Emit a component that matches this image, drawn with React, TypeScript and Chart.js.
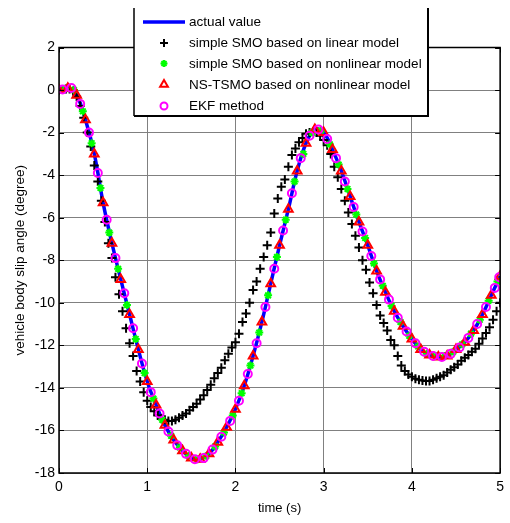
import React, { useEffect, useRef } from "react";
import { Chart, registerables } from "chart.js";
import { drawPoint } from "chart.js/helpers";
Chart.register(...registerables);

const FONT = 'Arial, "Liberation Sans", sans-serif';

const X_TICKS = [0, 1, 2, 3, 4, 5];
const Y_TICKS = [-18, -16, -14, -12, -10, -8, -6, -4, -2, 0, 2];

const LEGEND_LABELS = [
  "actual value",
  "simple SMO based on linear model",
  "simple SMO based on nonlinear model",
  "NS-TSMO based on nonlinear model",
  "EKF method",
];

// actual value (also the NS-TSMO triangle samples)
const ACTUAL_T = [
  0, 0.1, 0.2, 0.3, 0.4, 0.5, 0.6, 0.7, 0.8, 0.9,
  1.0, 1.1, 1.2, 1.3, 1.4, 1.5, 1.6, 1.7, 1.8, 1.9,
  2.0, 2.1, 2.2, 2.3, 2.4, 2.5, 2.6, 2.7, 2.8, 2.9,
  3.0, 3.1, 3.2, 3.3, 3.4, 3.5, 3.6, 3.7, 3.8, 3.9,
  4.0, 4.1, 4.2, 4.3, 4.4, 4.5, 4.6, 4.7, 4.8, 4.9, 5.0,
];
const ACTUAL = [
  0, 0.08, -0.25, -1.4, -3.0, -5.3, -7.2, -8.9, -10.55, -12.2,
  -13.7, -14.8, -15.75, -16.45, -16.95, -17.3, -17.35, -17.1, -16.55, -15.85,
  -15.0, -13.9, -12.5, -10.9, -9.1, -7.3, -5.6, -3.8, -2.5, -1.85,
  -2.0, -2.8, -3.8, -5.0, -6.2, -7.3, -8.5, -9.5, -10.4, -11.1,
  -11.7, -12.2, -12.45, -12.55, -12.5, -12.2, -11.85, -11.3, -10.55, -9.65, -8.75,
];

// simple SMO based on linear model
const SMO_LIN_T = [
  0, 0.04, 0.08, 0.12, 0.16, 0.2, 0.24, 0.28, 0.32, 0.36,
  0.4, 0.44, 0.48, 0.52, 0.56, 0.6, 0.64, 0.68, 0.72, 0.76,
  0.8, 0.84, 0.88, 0.92, 0.96, 1.0, 1.04, 1.08, 1.12, 1.16,
  1.2, 1.24, 1.28, 1.32, 1.36, 1.4, 1.44, 1.48, 1.52, 1.56,
  1.6, 1.64, 1.68, 1.72, 1.76, 1.8, 1.84, 1.88, 1.92, 1.96,
  2.0, 2.04, 2.08, 2.12, 2.16, 2.2, 2.24, 2.28, 2.32, 2.36,
  2.4, 2.44, 2.48, 2.52, 2.56, 2.6, 2.64, 2.68, 2.72, 2.76,
  2.8, 2.84, 2.88, 2.92, 2.96, 3.0, 3.04, 3.08, 3.12, 3.16,
  3.2, 3.24, 3.28, 3.32, 3.36, 3.4, 3.44, 3.48, 3.52, 3.56,
  3.6, 3.64, 3.68, 3.72, 3.76, 3.8, 3.84, 3.88, 3.92, 3.96,
  4.0, 4.04, 4.08, 4.12, 4.16, 4.2, 4.24, 4.28, 4.32, 4.36,
  4.4, 4.44, 4.48, 4.52, 4.56, 4.6, 4.64, 4.68, 4.72, 4.76,
  4.8, 4.84, 4.88, 4.92, 4.96, 5.0,
];
const SMO_LIN = [
  0, 0.02, 0.05, 0.05, -0.05, -0.3, -0.75, -1.3, -2.0, -2.65,
  -3.55, -4.3, -5.2, -6.2, -7.2, -7.9, -8.8, -9.6, -10.4, -11.2,
  -11.9, -12.5, -13.2, -13.7, -14.2, -14.6, -14.9, -15.1, -15.3, -15.45,
  -15.5, -15.55, -15.55, -15.5, -15.4, -15.3, -15.2, -15.05, -14.9, -14.75,
  -14.55, -14.35, -14.1, -13.85, -13.55, -13.3, -13.05, -12.7, -12.4, -12.1,
  -11.85, -11.45, -10.9, -10.5, -10.0, -9.4, -9.0, -8.4, -7.85, -7.3,
  -6.7, -5.8, -5.1, -4.55, -4.2, -3.6, -3.05, -2.75, -2.45, -2.25,
  -2.05, -2.0, -1.95, -2.0, -2.15, -2.35, -2.6, -3.0, -3.6, -4.1,
  -4.65, -5.2, -5.75, -6.3, -6.85, -7.4, -8.0, -8.45, -9.05, -9.55,
  -10.1, -10.6, -10.95, -11.3, -11.75, -12.0, -12.5, -12.95, -13.2, -13.37,
  -13.48, -13.57, -13.62, -13.65, -13.67, -13.67, -13.62, -13.55, -13.48, -13.4,
  -13.28, -13.15, -13.03, -12.9, -12.72, -12.58, -12.45, -12.3, -12.16, -11.92,
  -11.68, -11.42, -11.15, -10.8, -10.4, -10.0,
];

// simple SMO based on nonlinear model
const SMO_NL_T = [
  0.07, 0.17, 0.27, 0.37, 0.47, 0.57, 0.67, 0.77, 0.87, 0.97,
  1.07, 1.17, 1.27, 1.37, 1.47, 1.57, 1.67, 1.77, 1.87, 1.97,
  2.07, 2.17, 2.27, 2.37, 2.47, 2.57, 2.67, 2.77, 2.87, 2.97,
  3.07, 3.17, 3.27, 3.37, 3.47, 3.57, 3.67, 3.77, 3.87, 3.97,
  4.07, 4.17, 4.27, 4.37, 4.47, 4.57, 4.67, 4.77, 4.87, 4.97,
];
const SMO_NL = [
  0.06, 0.0, -1.0, -2.5, -4.6, -6.7, -8.4, -10.1, -11.7, -13.3,
  -14.5, -15.5, -16.25, -16.8, -17.2, -17.35, -17.2, -16.75, -16.1, -15.3,
  -14.25, -12.95, -11.4, -9.65, -7.85, -6.1, -4.3, -3.0, -2.0, -1.9,
  -2.55, -3.5, -4.65, -5.85, -6.95, -8.15, -9.2, -10.15, -10.9, -11.55,
  -12.05, -12.4, -12.5, -12.5, -12.3, -11.95, -11.45, -10.8, -9.9, -9.0,
];

// EKF method
const EKF_T = [
  0.04, 0.14, 0.24, 0.34, 0.44, 0.54, 0.64, 0.74, 0.84, 0.94,
  1.04, 1.14, 1.24, 1.34, 1.44, 1.54, 1.64, 1.74, 1.84, 1.94,
  2.04, 2.14, 2.24, 2.34, 2.44, 2.54, 2.64, 2.74, 2.84, 2.94,
  3.04, 3.14, 3.24, 3.34, 3.44, 3.54, 3.64, 3.74, 3.84, 3.94,
  4.04, 4.14, 4.24, 4.34, 4.44, 4.54, 4.64, 4.74, 4.84, 4.94, 4.99,
];
const EKF = [
  0.03, 0.1, -0.65, -2.0, -3.9, -6.1, -7.9, -9.55, -11.2, -12.85,
  -14.2, -15.2, -16.05, -16.7, -17.1, -17.35, -17.3, -16.9, -16.3, -15.55,
  -14.6, -13.35, -11.9, -10.2, -8.4, -6.6, -4.85, -3.2, -2.15, -1.85,
  -2.3, -3.2, -4.3, -5.5, -6.65, -7.8, -8.9, -9.85, -10.7, -11.35,
  -11.9, -12.3, -12.5, -12.55, -12.4, -12.1, -11.65, -11.0, -10.2, -9.3, -8.8,
];

const STYLES = [
  { color: "#0000ff", pointStyle: "line", radius: 0, width: 3.5 },
  { color: "#000000", pointStyle: "cross", radius: 4.5, width: 2 },
  { color: "#00ff00", pointStyle: "star", radius: 4, width: 2 },
  { color: "#ff0000", pointStyle: "triangle", radius: 5, width: 2 },
  { color: "#ff00ff", pointStyle: "circle", radius: 4, width: 2 },
];

export default function App() {
  const ref = useRef<HTMLCanvasElement>(null);

  useEffect(() => {
    if (!ref.current) return;
    const pts = (t: number[], v: number[]) => t.map((x, i) => ({ x, y: v[i] }));

    const framePlugin = {
      id: "frameTicks",
      afterDatasetsDraw(chart: any) {
        const { ctx, chartArea: a, scales } = chart;
        ctx.save();
        ctx.strokeStyle = "#000";
        ctx.lineWidth = 1;
        const L = 5;
        ctx.beginPath();
        for (const v of Y_TICKS) {
          const y = Math.round(scales.y.getPixelForValue(v)) + 0.5;
          ctx.moveTo(a.left, y); ctx.lineTo(a.left + L, y);
          ctx.moveTo(a.right, y); ctx.lineTo(a.right - L, y);
        }
        for (const v of X_TICKS) {
          const x = Math.round(scales.x.getPixelForValue(v)) + 0.5;
          ctx.moveTo(x, a.bottom); ctx.lineTo(x, a.bottom - L);
          ctx.moveTo(x, a.top); ctx.lineTo(x, a.top + L);
        }
        ctx.stroke();
        ctx.lineWidth = 1.5;
        ctx.strokeRect(a.left, a.top, a.right - a.left, a.bottom - a.top);
        ctx.restore();
      },
    };

    const overlayPlugin = {
      id: "overlay",
      afterDraw(chart: any) {
        const { ctx, chartArea: a } = chart;
        ctx.save();
        // axis titles
        ctx.fillStyle = "#000";
        ctx.font = `13px ${FONT}`;
        ctx.textAlign = "center";
        ctx.textBaseline = "middle";
        ctx.fillText("time (s)", (a.left + a.right) / 2, 508);
        ctx.translate(20, (a.top + a.bottom) / 2);
        ctx.rotate(-Math.PI / 2);
        ctx.font = `13.5px ${FONT}`;
        ctx.fillText("vehicle body slip angle (degree)", 0, 0);
        ctx.restore();

        // legend box
        ctx.save();
        const bl = 134, br = 428, bt = 8, bb = 116;
        ctx.fillStyle = "#fff";
        ctx.fillRect(bl, bt, br - bl, bb - bt);
        ctx.strokeStyle = "#000";
        ctx.lineWidth = 1.5;
        ctx.beginPath();
        ctx.moveTo(bl, bt); ctx.lineTo(bl, bb);
        ctx.stroke();
        ctx.lineWidth = 2;
        ctx.beginPath();
        ctx.moveTo(bl, bb); ctx.lineTo(br, bb); ctx.lineTo(br, bt);
        ctx.stroke();

        const rows = [22, 43, 63.5, 84.5, 106];
        ctx.font = `13.5px ${FONT}`;
        ctx.textAlign = "left";
        ctx.textBaseline = "middle";
        LEGEND_LABELS.forEach((label, i) => {
          const y = rows[i];
          const s = STYLES[i];
          ctx.strokeStyle = s.color;
          ctx.fillStyle = "rgba(0,0,0,0)";
          if (i === 0) {
            ctx.lineWidth = 3.5;
            ctx.beginPath();
            ctx.moveTo(143, y); ctx.lineTo(185, y);
            ctx.stroke();
          } else {
            ctx.lineWidth = s.width;
            drawPoint(ctx, { pointStyle: s.pointStyle, radius: s.radius - 0.5, rotation: 0, borderWidth: s.width } as any, 164, y);
          }
          ctx.fillStyle = "#000";
          ctx.fillText(label, 189, y + 0.5);
        });
        ctx.restore();
      },
    };

    const markerSet = (i: number, t: number[], v: number[], order: number) => ({
      label: LEGEND_LABELS[i],
      data: pts(t, v),
      showLine: false,
      pointStyle: STYLES[i].pointStyle,
      pointRadius: STYLES[i].radius,
      pointBorderWidth: STYLES[i].width,
      borderColor: STYLES[i].color,
      pointBorderColor: STYLES[i].color,
      backgroundColor: "rgba(0,0,0,0)",
      pointBackgroundColor: "rgba(0,0,0,0)",
      order,
    });

    const chart = new Chart(ref.current, {
      type: "line",
      data: {
        datasets: [
          {
            label: LEGEND_LABELS[0],
            data: pts(ACTUAL_T, ACTUAL),
            borderColor: STYLES[0].color,
            borderWidth: STYLES[0].width,
            pointRadius: 0,
            tension: 0.4,
            order: 5,
          },
          markerSet(1, SMO_LIN_T, SMO_LIN, 4),
          markerSet(2, SMO_NL_T, SMO_NL, 3),
          markerSet(3, ACTUAL_T, ACTUAL, 2),
          markerSet(4, EKF_T, EKF, 1),
        ],
      },
      options: {
        responsive: false,
        animation: false,
        devicePixelRatio: 1,
        layout: { padding: { left: 0, right: 3, top: 47.5, bottom: 0 } },
        plugins: { legend: { display: false }, tooltip: { enabled: false } },
        elements: { point: { hoverRadius: 0 } },
        scales: {
          x: {
            type: "linear",
            min: 0,
            max: 5,
            afterFit: (s: any) => { s.height = 50; },
            afterBuildTicks: (s: any) => { s.ticks = X_TICKS.map((v) => ({ value: v })); },
            ticks: { color: "#000", font: { family: FONT, size: 14 }, padding: 6, maxRotation: 0 },
            grid: { color: "#808080", lineWidth: 1, drawTicks: false },
            border: { display: false },
          },
          y: {
            type: "linear",
            min: -18,
            max: 2,
            afterFit: (s: any) => { s.width = 59; },
            afterBuildTicks: (s: any) => { s.ticks = Y_TICKS.map((v) => ({ value: v })); },
            ticks: { color: "#000", font: { family: FONT, size: 14 }, padding: 4 },
            grid: { color: "#808080", lineWidth: 1, drawTicks: false },
            border: { display: false },
          },
        },
      },
      plugins: [framePlugin, overlayPlugin],
    } as any);
    return () => chart.destroy();
  }, []);

  return (
    <div style={{ position: "fixed", left: 0, top: 0, width: 510, height: 523, background: "#fff" }}>
      <canvas ref={ref} width={510} height={523} style={{ display: "block", width: 510, height: 523 }} />
    </div>
  );
}
